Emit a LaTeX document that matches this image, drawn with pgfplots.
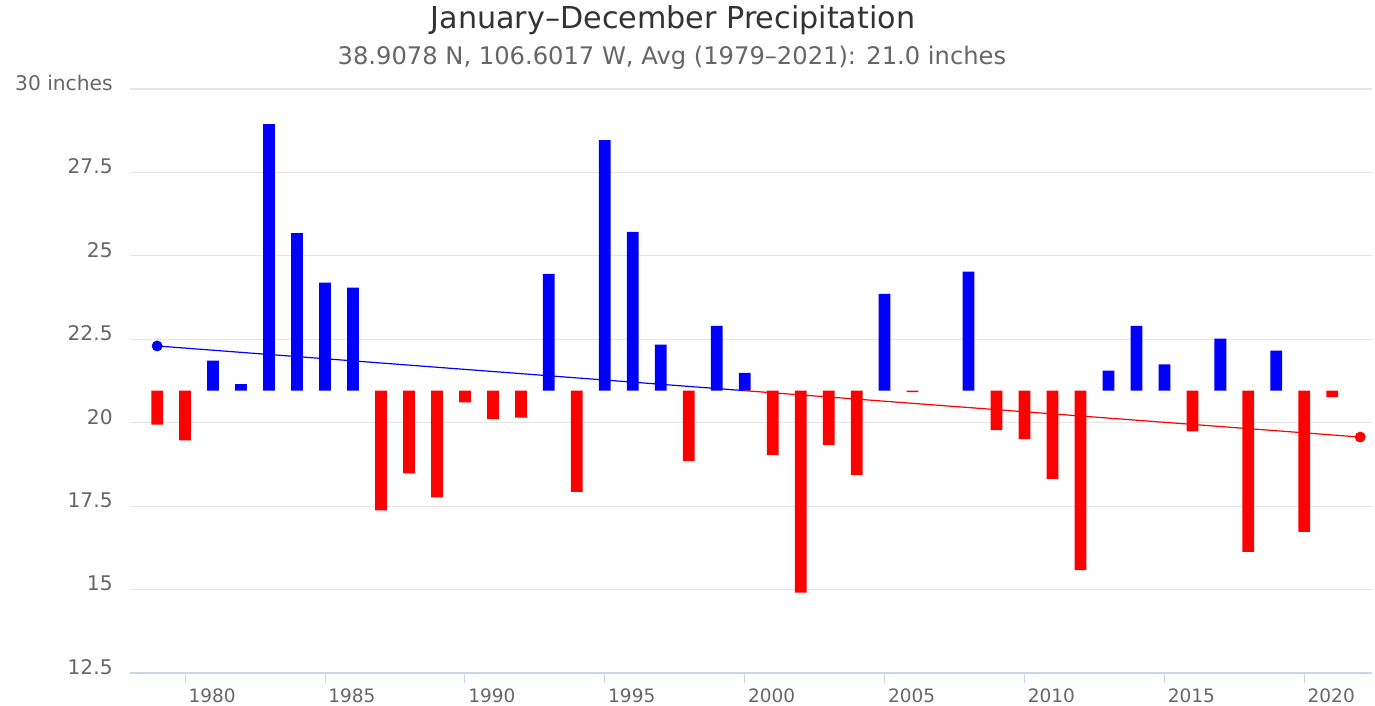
\documentclass[border=0pt]{standalone}
\usepackage{pgfplots}
\pgfplotsset{compat=1.18}
\usepackage{fontspec}
\setmainfont{DejaVu Sans}
\definecolor{gridc}{HTML}{E6E6E6}
\definecolor{axisc}{HTML}{CCD6EB}
\definecolor{labc}{HTML}{666666}
\definecolor{titc}{HTML}{333333}
\definecolor{barblue}{HTML}{0000FF}
\definecolor{barred}{HTML}{FF0000}
\begin{document}
\begin{tikzpicture}
\path[use as bounding box] (0,0) rectangle (687.5pt,353pt);
\node[anchor=base, font=\fontsize{15.1}{18}\selectfont, text=titc, inner sep=0pt] at (336.5pt,338.5pt) {January–December Precipitation};
\node[anchor=base, font=\fontsize{12.1}{14}\selectfont, text=labc, inner sep=0pt] at (336pt,320.5pt) {38.9078 N, 106.6017 W, Avg (1979–2021): 21.0 inches};
\begin{axis}[
  at={(65pt,16.5pt)}, anchor=south west,
  width=621pt, height=292pt, scale only axis,
  xmin=1978.03, xmax=2022.42,
  ymin=-8.46, ymax=9.04,
  y filter/.expression={y-20.96},
  axis x line*=bottom, axis y line*=left,
  x axis line style={draw=axisc, line width=0.6pt, -},
  y axis line style={draw=none},
  ymajorgrids, grid style={draw=gridc, line width=0.6pt},
  tick align=outside, major tick length=5pt,
  xtick={1980,1985,1990,1995,2000,2005,2010,2015,2020},
  xticklabels={1980,1985,1990,1995,2000,2005,2010,2015,2020},
  xtick style={draw=axisc, line width=0.5pt},
  ytick={-8.46,-5.96,-3.46,-0.96,1.54,4.04,6.54,9.04},
  yticklabels={12.5,15,17.5,20,22.5,25,27.5,30 inches},
  ytick style={draw=none},
  ticklabel style={text=labc, inner sep=0pt},
  xticklabel style={font=\fontsize{9.25}{11}\selectfont, anchor=north west, xshift=1.5pt, yshift=-2.5pt},
  yticklabel style={font=\fontsize{10.1}{12}\selectfont, anchor=east, xshift=-3.5pt, yshift=3pt},
]
\addplot[ybar, bar width=0.42, bar shift=0pt, fill=barblue, draw=none] coordinates {
(1981,21.86) (1982,21.16) (1983,28.95) (1984,25.68) (1985,24.20) (1986,24.05)
(1993,24.46) (1995,28.47) (1996,25.72) (1997,22.34) (1999,22.90) (2000,21.49)
(2005,23.86) (2008,24.53) (2013,21.56) (2014,22.90) (2015,21.75) (2017,22.52)
(2019,22.16)};
\addplot[ybar, bar width=0.42, bar shift=0pt, fill=barred, draw=none] coordinates {
(1979,19.94) (1980,19.47) (1987,17.37) (1988,18.48) (1989,17.76) (1990,20.61)
(1991,20.11) (1992,20.15) (1994,17.93) (1998,18.85) (2001,19.03) (2002,14.91)
(2003,19.33) (2004,18.43) (2006,20.92) (2009,19.78) (2010,19.51) (2011,18.32)
(2012,15.58) (2016,19.74) (2018,16.13) (2020,16.73) (2021,20.77)};
\addplot[barblue, line width=0.6pt, mark=none] coordinates {(1979,22.30) (2000.0,20.96)};
\addplot[barred, line width=0.6pt, mark=none] coordinates {(2000.0,20.96) (2022,19.57)};
\addplot[only marks, mark=*, mark size=2.5pt, barblue] coordinates {(1979,22.30)};
\addplot[only marks, mark=*, mark size=2.5pt, barred] coordinates {(2022,19.57)};
\end{axis}
\end{tikzpicture}
\end{document}
